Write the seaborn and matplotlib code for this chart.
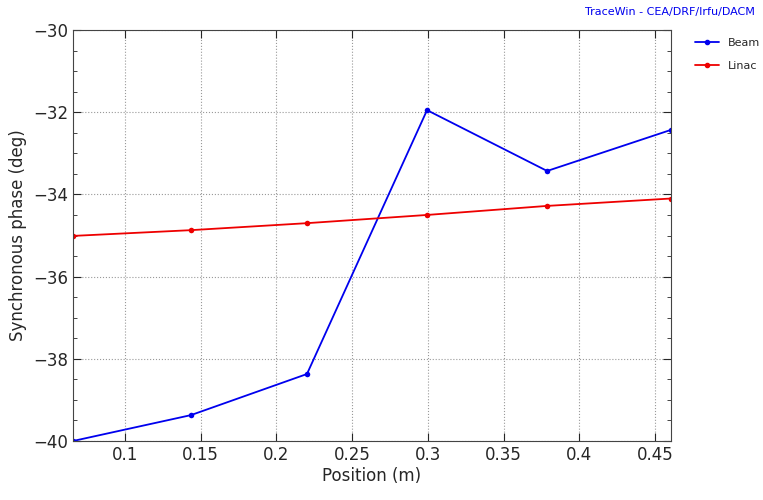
import matplotlib
matplotlib.use("Agg")
import matplotlib.pyplot as plt
import seaborn as sns
import pandas as pd

position = [0.0657, 0.1436, 0.2202, 0.2995, 0.3788, 0.4606]
beam = [-40.0, -39.37, -38.37, -31.95, -33.43, -32.43]
linac = [-35.01, -34.87, -34.70, -34.50, -34.28, -34.10]

sns.set_style("white")
plt.rcParams['font.family'] = ['DejaVu Sans']

df = pd.DataFrame({"Position": position * 2, "Phase": beam + linac,
                   "Series": ["Beam"] * 6 + ["Linac"] * 6})

fig = plt.figure(figsize=(7.63, 5.0), dpi=100)
ax = fig.add_axes([73/763, 59/500, 598/763, 411/500])
sns.lineplot(data=df, x="Position", y="Phase", hue="Series",
             palette={"Beam": "#0000ee", "Linac": "#ee0000"},
             marker="o", markersize=4, markeredgewidth=0, linewidth=1.3, ax=ax, legend=False)
ax.set_xlim(position[0], position[-1])
ax.set_ylim(-40, -30)
ax.set_xticks([0.1, 0.15, 0.2, 0.25, 0.3, 0.35, 0.4, 0.45])
ax.set_xticklabels(["0.1", "0.15", "0.2", "0.25", "0.3", "0.35", "0.4", "0.45"])
ax.set_yticks([-40, -38, -36, -34, -32, -30])
ax.set_yticks([-39.5, -39, -38.5, -37.5, -37, -36.5, -35.5, -35, -34.5, -33.5, -33, -32.5, -31.5, -31, -30.5], minor=True)
ax.tick_params(axis='both', which='major', labelsize=12, direction='in', length=6, left=True, bottom=True, right=True, top=True)
ax.tick_params(axis='both', which='minor', direction='in', length=3, left=True, right=True)
ax.grid(True, which='major', linestyle=':', color='#999999', linewidth=0.8)
ax.set_xlabel("Position (m)", fontsize=12, labelpad=2)
ax.set_ylabel("Synchronous phase (deg)", fontsize=12)
for s in ax.spines.values():
    s.set_color('#444444')

fig.text(0.99, 0.985, "TraceWin - CEA/DRF/Irfu/DACM", color="#0000ee", fontsize=8, ha='right', va='top')
from matplotlib.lines import Line2D
fig.legend(handles=[Line2D([], [], color="#0000ee", marker='o', markersize=3, lw=1.3),
                    Line2D([], [], color="#ee0000", marker='o', markersize=3, lw=1.3)],
           labels=["Beam", "Linac"], loc='upper left', bbox_to_anchor=(685/763, 1 - 28/500),
           frameon=False, fontsize=8, handlelength=2.2, labelspacing=1.2)
fig.savefig("out.png", dpi=100, facecolor="white")
